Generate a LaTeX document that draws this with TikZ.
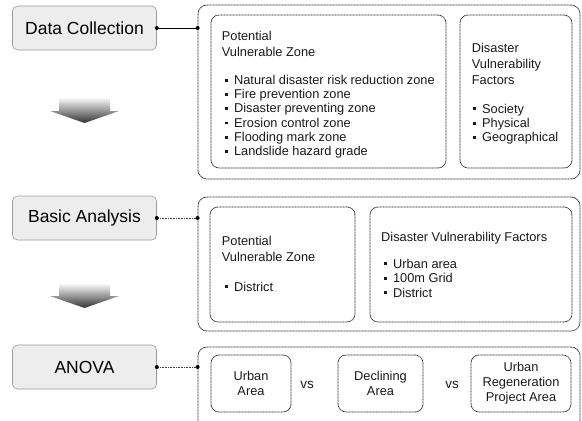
\documentclass[tikz,border=0pt]{standalone}
\usepackage{fontspec}
\setmainfont{Liberation Sans}
\newcommand\sqb{\raisebox{2.7pt}{\rule{2.9pt}{2.9pt}}\hspace{6pt}}
\begin{document}
\begin{tikzpicture}[x=1pt,y=-1pt,
  leftbox/.style={draw=black!40, fill=black!7, rounded corners=5pt, line width=0.6pt,
    minimum width=144pt, minimum height=44pt, inner sep=0pt,
    font=\fontsize{17.5}{20}\selectfont, text=black},
  dashbox/.style={draw=black!85, dash pattern=on 1pt off 0.5pt, line width=0.75pt, inner sep=0pt},
  outerbox/.style={dashbox, rounded corners=9pt},
  innerbox/.style={dashbox, rounded corners=8pt, align=center,
    font=\fontsize{12.8}{15}\selectfont, text=black!90},
  txt/.style={anchor=base west, inner sep=0pt, font=\fontsize{12.8}{15}\selectfont, text=black!90},
  conn/.style={draw=black, line width=0.5pt},
  dconn/.style={draw=black!75, line width=0.5pt, dash pattern=on 1pt off 0.6pt},
  dot/.style={fill=black},
  vs/.style={inner sep=0pt, font=\fontsize{13.5}{15}\selectfont, text=black!90}
]
\useasboundingbox (0,0) rectangle (582,421);

% ---------- Section 1 ----------
\node[leftbox] (dc) at (84.5,28) {Data Collection};
\node[outerbox, minimum width=382pt, minimum height=174pt] (o1) at (389,92) {};
\node[dashbox, rounded corners=8pt, minimum width=235pt, minimum height=153pt] (b1a) at (328.5,91.5) {};
\node[dashbox, rounded corners=8pt, minimum width=112pt, minimum height=153pt] (b1b) at (516,91.5) {};
\coordinate (c1) at (dc.east -| o1.west);
\draw[conn] (dc.east) -- (c1);
\fill[dot] (dc.east) circle (2pt);
\fill[dot] (c1) circle (2pt);

\node[txt] (t1a) at (221.7,40.7) {Potential};
\node[txt] (t1b) at (221.7,56.7) {Vulnerable Zone};
\foreach \t [count=\i from 0] in {Natural disaster risk reduction zone, Fire prevention zone,
  Disaster preventing zone, Erosion control zone, Flooding mark zone, Landslide hazard grade}
  \node[txt] (i1-\i) at (225,84.5+14.2*\i) {\sqb\t};

\node[txt] (t2a) at (471.7,52) {Disaster};
\node[txt] (t2b) at (471.7,68) {Vulnerability};
\node[txt] (t2c) at (471.7,84) {Factors};
\foreach \t [count=\i from 0] in {Society, Physical, Geographical}
  \node[txt] (i2-\i) at (473,113+14.2*\i) {\sqb\t};

% arrow 1
\shade[top color=white, bottom color=black!80]
  (59,97) -- (110,97) -- (110,111) -- (119,111) -- (84.5,123) -- (50,111) -- (59,111) -- cycle;

% ---------- Section 2 ----------
\node[leftbox] (ba) at (84.5,218) {Basic Analysis};
\node[outerbox, minimum width=382pt, minimum height=134pt] (o2) at (389,264) {};
\node[dashbox, rounded corners=8pt, minimum width=145pt, minimum height=115pt] (b2a) at (282.5,264.5) {};
\node[dashbox, rounded corners=8pt, minimum width=202pt, minimum height=115pt] (b2b) at (471,264.5) {};
\coordinate (c2) at (ba.east -| o2.west);
\draw[dconn] (ba.east) -- (c2);
\fill[dot] (ba.east) circle (2pt);
\fill[dot] (c2) circle (2pt);

\node[txt] (t3a) at (221.7,245) {Potential};
\node[txt] (t3b) at (221.7,261) {Vulnerable Zone};
\node[txt] (i3-0) at (225,291) {\sqb District};

\node[txt] (t4a) at (381,241) {Disaster Vulnerability Factors};
\foreach \t [count=\i from 0] in {Urban area, 100m Grid, District}
  \node[txt] (i4-\i) at (384,268+14.5*\i) {\sqb\t};

% arrow 2
\shade[top color=white, bottom color=black!80]
  (59,283) -- (110,283) -- (110,296) -- (119,296) -- (84.5,308) -- (50,296) -- (59,296) -- cycle;

% ---------- Section 3 ----------
\node[leftbox] (an) at (84.5,367) {ANOVA};
\node[outerbox, minimum width=382pt, minimum height=120pt] (o3) at (389,407) {};
\node[innerbox, minimum width=80pt, minimum height=57pt] (ua) at (251,383.5) {Urban\\Area};
\node[vs] (vs1) at (307,385) {vs};
\node[innerbox, minimum width=85pt, minimum height=57pt] (da) at (380.5,383.5) {Declining\\Area};
\node[vs] (vs2) at (452,385) {vs};
\node[innerbox, minimum width=100pt, minimum height=57pt] (ur) at (521,383.5) {Urban\\Regeneration\\Project Area};
\coordinate (c3) at (an.east -| o3.west);
\draw[dconn] (an.east) -- (c3);
\fill[dot] (an.east) circle (2pt);
\fill[dot] (c3) circle (2pt);
\end{tikzpicture}
\end{document}
